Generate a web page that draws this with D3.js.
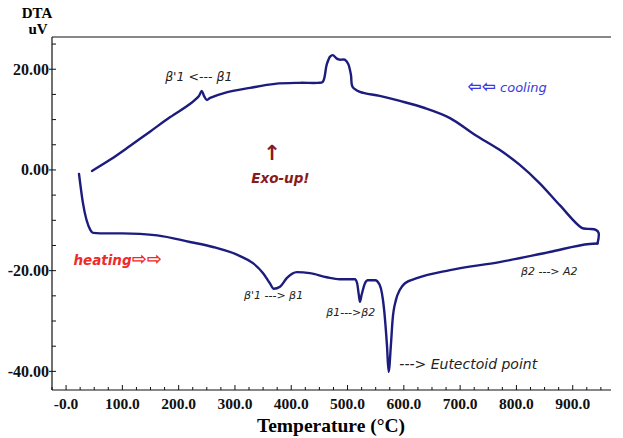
<!DOCTYPE html>
<html>
<head>
<meta charset="utf-8">
<script src="https://cdn.jsdelivr.net/npm/d3@7"></script>
<style>
  body { margin: 0; background: #fff; }
  svg { display: block; }
  .tick-label { font-family: "Liberation Serif", "Times New Roman", serif; font-weight: bold; fill: #111; }
  .note { font-family: "DejaVu Sans", Verdana, sans-serif; font-style: italic; fill: #222; }
</style>
</head>
<body>
<div id="chart"></div>
<script>
// heating run (temperature in °C, DTA signal in uV)
const heatT = [23, 30, 43, 48, 73, 100, 131, 162, 220, 261, 309, 332, 350, 362, 369, 380, 392, 410, 433, 463, 486,
  513, 517, 520, 522, 525, 531, 536, 549, 557, 565, 570, 573, 577, 580, 586, 593, 602, 623, 682, 770, 859, 930, 944];
const heatV = [-0.8, -6.6, -11.9, -12.5, -12.6, -12.6, -12.7, -13.0, -14.3, -15.3, -17.1, -18.5, -20.5, -22.5, -23.6, -23.2, -21.5, -20.3, -20.5, -21.3, -21.7,
  -21.7, -22.5, -24.8, -26.2, -24.8, -22.5, -21.9, -21.9, -22.8, -27.8, -34.8, -40.1, -34.8, -29.8, -25.8, -23.8, -22.5, -21.5, -19.9, -18.3, -16.3, -14.7, -14.6];

// cooling run, from the top temperature back down
const coolT = [944, 946, 941, 927, 916, 877, 841, 806, 770, 726, 682, 637, 593, 557, 522, 509, 506, 501, 495, 486,
  481, 474, 469, 463, 456, 447, 415, 371, 327, 282, 256, 250, 245, 241, 236, 220, 185, 149, 114, 78, 46];
const coolV = [-14.6, -12.5, -11.9, -11.7, -11.5, -7.0, -2.6, 1.0, 4.0, 7.0, 10.3, 12.3, 13.7, 14.7, 15.5, 16.5, 18.9, 21.1, 21.9, 21.9,
  22.1, 22.8, 22.5, 20.9, 17.5, 17.3, 17.3, 17.1, 16.3, 15.3, 14.3, 13.9, 14.7, 15.7, 14.7, 13.1, 10.5, 7.6, 4.8, 2.0, -0.2];

const xTicks = [0, 100, 200, 300, 400, 500, 600, 700, 800, 900];
const xTickLabels = ["-0.0", "100.0", "200.0", "300.0", "400.0", "500.0", "600.0", "700.0", "800.0", "900.0"];
const yTicks = [-40, -20, 0, 20];
const yTickLabels = ["-40.00", "-20.00", "0.00", "20.00"];

// text notes placed in data units
const notes = [
  { t: "β'1 <--- β1", x: 176, y: 17.6, size: 12.5 },
  { t: "β'1 ---> β1", x: 316, y: -25.6, size: 11 },
  { t: "β1--->β2", x: 462, y: -29.0, size: 11 },
  { t: "β2 ---> A2", x: 808, y: -20.8, size: 11 },
  { t: "---> Eutectoid point", x: 592, y: -39.6, size: 14 }
];

const width = 623, height = 438;
const margin = { left: 52, right: 611, top: 37, bottom: 390 };

const svg = d3.select('#chart').append('svg')
  .attr('width', width)
  .attr('height', height);

const x = d3.scaleLinear().domain([-25, 968]).range([margin.left, margin.right]);
const y = d3.scaleLinear().domain([-43.7, 26.4]).range([margin.bottom, margin.top]);

// frame: top line
svg.append('line')
  .attr('x1', margin.left).attr('x2', margin.right)
  .attr('y1', margin.top).attr('y2', margin.top)
  .attr('stroke', '#111').attr('stroke-width', 1.2);

// x axis with minor ticks pointing inward
const xMinor = d3.range(-25, 968, 25);
const xAxis = svg.append('g').attr('transform', `translate(0,${margin.bottom})`);
xAxis.append('line').attr('x1', margin.left).attr('x2', margin.right).attr('stroke', '#111').attr('stroke-width', 1.2);
xAxis.selectAll('.minor').data(xMinor).enter().append('line')
  .attr('x1', d => x(d)).attr('x2', d => x(d))
  .attr('y1', 0).attr('y2', d => d % 100 === 0 ? -5 : -3)
  .attr('stroke', '#111');
xAxis.selectAll('text').data(xTicks).enter().append('text')
  .attr('class', 'tick-label')
  .style('font-size', '15.5px')
  .attr('x', d => x(d)).attr('y', 19)
  .attr('text-anchor', 'middle')
  .text((d, i) => xTickLabels[i]);

// y axis
const yMinor = d3.range(-40, 26, 5);
const yAxis = svg.append('g').attr('transform', `translate(${margin.left},0)`);
yAxis.append('line').attr('y1', margin.top).attr('y2', margin.bottom).attr('stroke', '#111').attr('stroke-width', 1.2);
yAxis.selectAll('.minor').data(yMinor).enter().append('line')
  .attr('y1', d => y(d)).attr('y2', d => y(d))
  .attr('x1', d => d % 20 === 0 ? -3 : 0).attr('x2', 4)
  .attr('stroke', '#111');
yAxis.selectAll('text').data(yTicks).enter().append('text')
  .attr('class', 'tick-label')
  .style('font-size', '16px')
  .attr('x', -3).attr('y', d => y(d) + 5.5)
  .attr('text-anchor', 'end')
  .text((d, i) => yTickLabels[i]);

// axis titles
const serif = '"Liberation Serif", "Times New Roman", serif';
svg.append('text').attr('x', 37).attr('y', 18).attr('text-anchor', 'middle')
  .style('font-family', serif).style('font-weight', 'bold').style('font-size', '15px').text('DTA');
svg.append('text').attr('x', 38).attr('y', 34).attr('text-anchor', 'middle')
  .style('font-family', serif).style('font-weight', 'bold').style('font-size', '15px').text('uV');
svg.append('text').attr('x', 331).attr('y', 432).attr('text-anchor', 'middle')
  .style('font-family', serif).style('font-weight', 'bold').style('font-size', '19.5px').text('Temperature (°C)');

// curves
const heat = heatT.map((t, i) => [t, heatV[i]]);
const cool = coolT.map((t, i) => [t, coolV[i]]);

const heatLine = d3.line()
  .x(d => x(d[0]))
  .y(d => y(d[1]))
  .curve(d3.curveMonotoneX);
const coolLine = d3.line()
  .x(d => x(d[0]))
  .y(d => y(d[1]))
  .curve(d3.curveCatmullRom.alpha(0.5));

[[heat, heatLine], [cool, coolLine]].forEach(([data, gen]) => {
  svg.append('path').datum(data)
    .attr('d', gen)
    .attr('fill', 'none')
    .attr('stroke', '#1c1c7e')
    .attr('stroke-width', 2.4)
    .attr('stroke-linejoin', 'round')
    .attr('stroke-linecap', 'round');
});

// notes
svg.selectAll('.notes').data(notes).enter().append('text')
  .attr('class', 'note')
  .attr('x', d => x(d.x)).attr('y', d => y(d.y))
  .style('font-size', d => d.size + 'px')
  .text(d => d.t);

const sans = '"DejaVu Sans", sans-serif';
const cooling = svg.append('text').attr('x', x(713)).attr('y', y(15.4))
  .style('font-family', sans).style('font-style', 'italic')
  .style('font-size', '13px').style('fill', '#3a3ae0');
cooling.append('tspan').style('font-size', '17px').style('font-weight', 'bold').text('⇦⇦');
cooling.append('tspan').text(' cooling');

svg.append('text').attr('x', x(366)).attr('y', y(1.9)).attr('text-anchor', 'middle')
  .style('font-family', sans).style('font-weight', 'bold')
  .style('font-size', '21px').style('fill', '#8b1a1a')
  .text('↑');
svg.append('text').attr('x', x(329)).attr('y', y(-2.6))
  .style('font-family', sans).style('font-weight', 'bold').style('font-style', 'italic')
  .style('font-size', '13.5px').style('fill', '#8b1a1a')
  .text('Exo-up!');

const heating = svg.append('text').attr('x', x(13)).attr('y', y(-18.9))
  .style('font-family', sans).style('font-weight', 'bold').style('font-style', 'italic')
  .style('font-size', '13.5px').style('fill', '#ee2a2a');
heating.append('tspan').text('heating');
heating.append('tspan').style('font-size', '18px').text('⇨⇨');
</script>
</body>
</html>
